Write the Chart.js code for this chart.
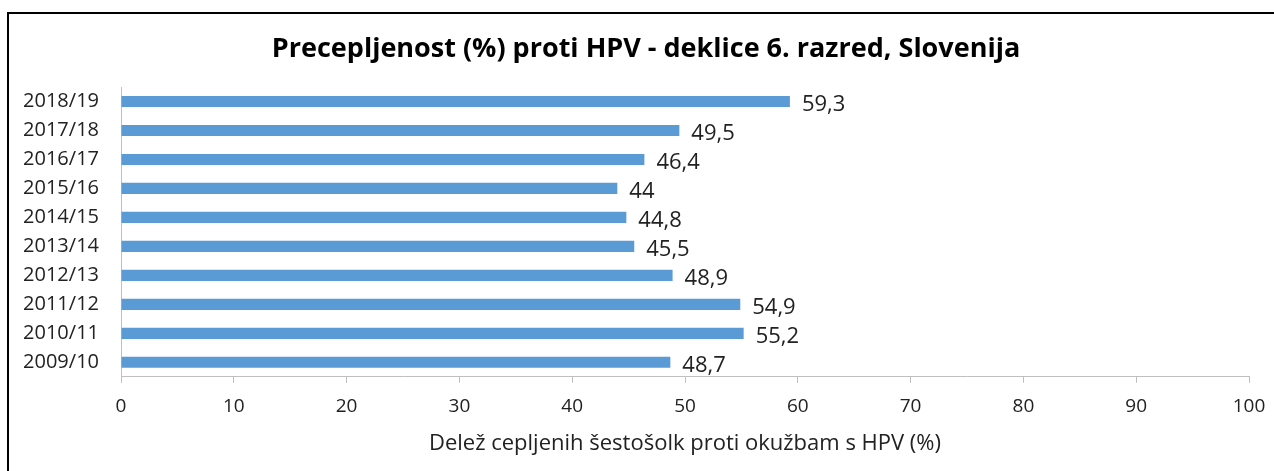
<!DOCTYPE html>
<html>
<head>
<meta charset="utf-8">
<script src="https://cdn.jsdelivr.net/npm/chart.js@4.4.1/dist/chart.umd.min.js"></script>
<style>
    html, body { margin: 0; padding: 0; background: #fff; overflow: hidden; }
    #wrap { position: relative; width: 1274px; height: 471px; }
    #frame { position: absolute; left: 7px; top: 12px; width: 1300px; height: 500px;
             border-left: 2px solid #000; border-top: 2px solid #000; box-sizing: border-box; }
    canvas { position: absolute; left: 0; top: 0; }
</style>
</head>
<body>
<div id="wrap">
    <div id="frame"></div>
    <canvas id="hpvChart" width="1274" height="471"></canvas>
</div>
<script>
// School years, top to bottom as in the original
const years = ['2018/19', '2017/18', '2016/17', '2015/16', '2014/15', '2013/14', '2012/13', '2011/12', '2010/11', '2009/10'];
// Vaccination coverage (%) for each year
const coverage = [59.3, 49.5, 46.4, 44, 44.8, 45.5, 48.9, 54.9, 55.2, 48.7];
const xMin = 0, xMax = 100, xStep = 10;

const chartTitle = 'Precepljenost (%) proti HPV - deklice 6. razred, Slovenija';
const xTitle = 'Delež cepljenih šestošolk proti okužbam s HPV (%)';

const FONT = "'Open Sans', Lato, sans-serif";
const AXIS_GREY = '#bfbfbf';

// Title drawn by hand: the original is centred a bit right of the canvas middle
const titleText = {
    id: 'titleText',
    afterDraw(chart) {
        const ctx = chart.ctx;
        ctx.save();
        ctx.font = 'bold 27px ' + FONT;
        ctx.fillStyle = '#000';
        ctx.textAlign = 'center';
        ctx.textBaseline = 'alphabetic';
        ctx.fillText(chartTitle, 646, 57);
        ctx.restore();
    }
};

// Value labels at the end of each bar, decimal comma
const barLabels = {
    id: 'barLabels',
    afterDatasetsDraw(chart) {
        const ctx = chart.ctx;
        const meta = chart.getDatasetMeta(0);
        ctx.save();
        ctx.font = '22px ' + FONT;
        ctx.fillStyle = '#222';
        ctx.textBaseline = 'middle';
        ctx.textAlign = 'left';
        meta.data.forEach((bar, i) => {
            const txt = String(coverage[i]).replace('.', ',');
            ctx.fillText(txt, bar.x + 12, bar.y + 3);
        });
        ctx.restore();
    }
};

const ctx = document.getElementById('hpvChart');
new Chart(ctx, {
    type: 'bar',
    data: {
        labels: years,
        datasets: [{
            data: coverage,
            backgroundColor: '#5b9bd5',
            borderWidth: 0,
            categoryPercentage: 0.8,
            barPercentage: 0.48
        }]
    },
    options: {
        indexAxis: 'y',
        responsive: false,
        animation: false,
        layout: { padding: { left: 0, right: 25, top: 87, bottom: 14 } },
        plugins: {
            legend: { display: false },
            tooltip: { enabled: false },
            title: { display: false }
        },
        scales: {
            x: {
                min: xMin,
                max: xMax,
                ticks: { stepSize: xStep, color: '#222', font: { family: FONT, size: 19 }, padding: 12 },
                grid: { drawOnChartArea: false, drawTicks: true, tickLength: 6, color: AXIS_GREY },
                border: { color: AXIS_GREY, width: 1 },
                title: {
                    display: true,
                    text: xTitle,
                    color: '#222',
                    font: { family: FONT, size: 22 },
                    padding: { top: 1, bottom: 0 }
                },
                // let the "100" label overhang the right padding, as in the original
                afterFit(scale) { scale.paddingRight = 0; }
            },
            y: {
                ticks: { color: '#222', font: { family: FONT, size: 20 }, padding: 22 },
                grid: { drawOnChartArea: false, drawTicks: false },
                border: { color: AXIS_GREY, width: 1 },
                afterFit(scale) { scale.width = 121; }
            }
        }
    },
    plugins: [barLabels, titleText]
});
</script>
</body>
</html>
